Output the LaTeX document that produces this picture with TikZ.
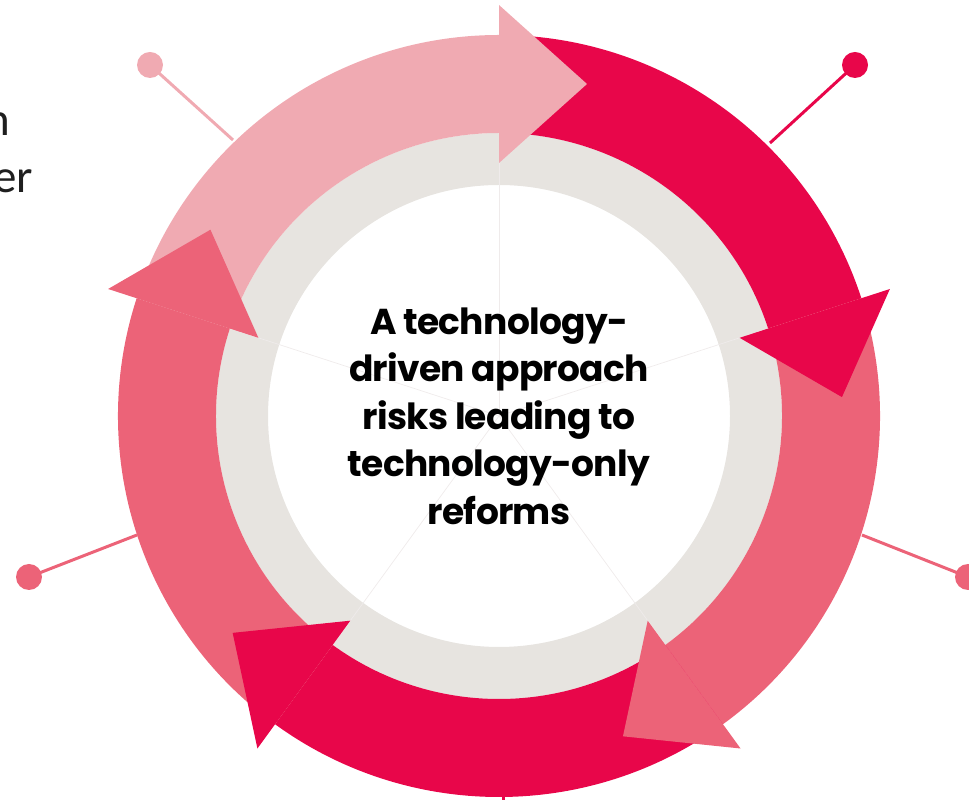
\documentclass[tikz,border=0pt]{standalone}
\usepackage{fontspec}
\setmainfont{Poppins}
\newfontfamily\ctrfont{Poppins}[LetterSpace=-2]
\newfontfamily\fragfont{Carlito}
\usetikzlibrary{calc}
\definecolor{lp}{HTML}{F0AAB2}
\definecolor{rd}{HTML}{E8064A}
\definecolor{mp}{HTML}{EC6378}
\definecolor{gr}{HTML}{E7E4E0}
\definecolor{faint}{HTML}{EFEBEB}
\tikzset{
  pindot/.style={circle, minimum size=26pt, inner sep=0pt, fill=#1},
  pinline/.style={line width=3pt, draw=#1},
  frag/.style={anchor=base east, inner sep=0pt, text=black!88, font=\fragfont\fontsize{47}{50}\selectfont},
  centertext/.style={align=center, inner sep=0pt, text=black, font=\ctrfont\bfseries\fontsize{36}{47.5}\selectfont}
}
\begin{document}
\begin{tikzpicture}[x=1pt,y=1pt]
\useasboundingbox (0,0) rectangle (969,800);
\coordinate (C) at (499,384);

% left-edge text fragments
\node[frag] (f1) at (10,664) {n};
\node[frag] (f2) at (33,607) {er};

% pins
\node[pindot=lp] (p1) at (150,735) {};
\coordinate (e1) at (233,660);
\draw[pinline=lp] (p1.center) -- (e1);
\node[pindot=rd] (p2) at (855,735) {};
\coordinate (e2) at (770,657);
\draw[pinline=rd] (p2.center) -- (e2);
\node[pindot=mp] (p3) at (29,223) {};
\coordinate (e3) at (137,265);
\draw[pinline=mp] (p3.center) -- (e3);
\node[pindot=mp] (p4) at (968,223) {};
\coordinate (e4) at (862,265);
\draw[pinline=mp] (p4.center) -- (e4);
\coordinate (e5) at (503,5);
\coordinate (p5) at (503,-30);
\draw[pinline=rd] (e5) -- (p5);

% grey ring
\fill[gr, even odd rule] (C) circle (283pt) (C) circle (231pt);

% faint radial lines
\foreach \a in {90,18,-54,-126,162}{
  \draw[faint, line width=0.7pt] (C) -- ($(C)+(\a:283pt)$);
}

% arrow bodies
\foreach \a/\c in {162/lp,90/rd,18/mp,-54/rd,-126/mp}{
  \pgfmathsetmacro\b{\a-72}
  \fill[\c] ($(C)+(\a:381pt)$) arc[start angle=\a, end angle=\b, radius=381pt]
    -- ($(C)+(\b:283pt)$) arc[start angle=\b, end angle=\a, radius=283pt] -- cycle;
}
% arrow heads
\foreach \a/\c in {162/lp,90/rd,18/mp,-54/rd,-126/mp}{
  \pgfmathsetmacro\b{\a-72}
  \pgfmathsetmacro\t{\a-162}
  \fill[\c] ($(C)+(\b:253pt)$) -- ($(C)+(\b:411pt)$) -- ($(C)+(\b:332pt)+(\t:88pt)$) -- cycle;
}

% centre text
\node[centertext] (t) at (C) {A technology-\\driven approach\\risks leading to\\technology-only\\reforms};
\end{tikzpicture}
\end{document}
